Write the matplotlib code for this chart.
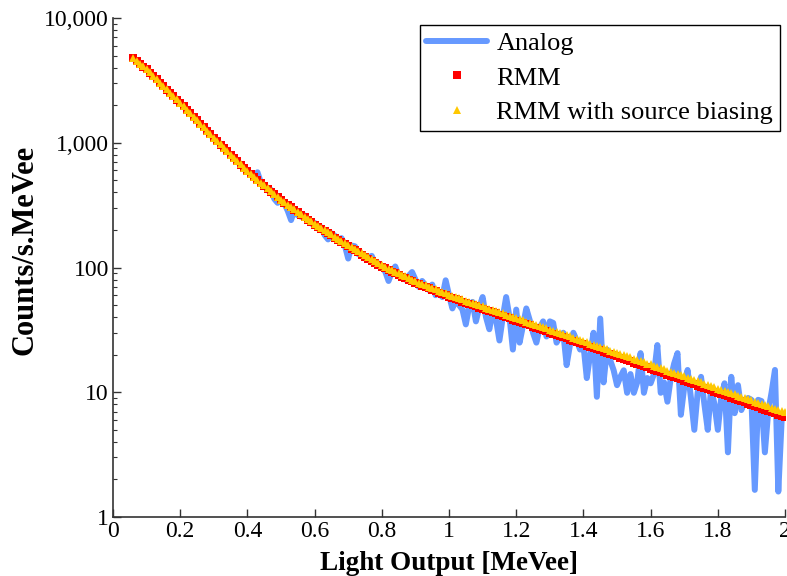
import numpy as np
import matplotlib
matplotlib.use("Agg")
import matplotlib.pyplot as plt
from matplotlib.ticker import FixedLocator, FuncFormatter, LogLocator, NullFormatter

# light output grid [MeVee], 0.06 .. 2.00 in steps of 0.01
light_output = np.round(np.arange(6, 201) / 100, 2)

# RMM estimate (counts/s.MeVee)
rmm = [
    4742, 4508, 4285, 4074,
    3882, 3648, 3428, 3221, 3027, 2844, 2673, 2512, 2360, 2218,
    2084, 1954, 1832, 1718, 1611, 1510, 1416, 1327, 1245, 1167,
    1094, 1028, 966, 908, 853, 802, 753, 708, 667, 627,
    589, 558, 530, 502, 476, 452, 429, 406, 385, 366,
    347, 331, 317, 303, 290, 277, 264, 253, 242, 231,
    221, 212, 204, 196, 188, 181, 173, 167, 160, 154,
    148, 142, 137, 132, 127, 122, 118, 113, 109, 105,
    101, 98.4, 95.5, 92.7, 89.9, 87.3, 84.7, 82.2, 79.8, 77.4,
    75.2, 73.3, 71.4, 69.7, 67.9, 66.2, 64.6, 63.0, 61.4, 59.8,
    58.3, 57.1, 55.8, 54.6, 53.4, 52.2, 51.1, 50.0, 48.9, 47.8,
    46.8, 45.8, 44.8, 43.8, 42.8, 41.9, 41.0, 40.1, 39.2, 38.3,
    37.5, 36.7, 35.9, 35.1, 34.4, 33.6, 32.9, 32.2, 31.5, 30.8,
    30.1, 29.5, 28.8, 28.2, 27.6, 27.0, 26.4, 25.9, 25.3, 24.8,
    24.2, 23.67, 23.15, 22.64, 22.14, 21.65, 21.17, 20.70, 20.25, 19.80,
    19.36, 18.93, 18.52, 18.11, 17.71, 17.32, 16.93, 16.56, 16.19, 15.84,
    15.49, 15.15, 14.81, 14.49, 14.17, 13.85, 13.55, 13.25, 12.96, 12.67,
    12.39, 12.12, 11.85, 11.59, 11.33, 11.08, 10.84, 10.60, 10.36, 10.13,
    9.91, 9.69, 9.48, 9.27, 9.06, 8.86, 8.67, 8.48, 8.29, 8.11,
    7.93, 7.75, 7.58, 7.41, 7.25, 7.09, 6.93, 6.78, 6.63, 6.49,
    6.34,
]

# RMM with source biasing
rmm_biased = [
    4760, 4520, 4290, 4090,
    3890, 3660, 3430, 3230, 3030, 2850, 2680, 2520, 2370, 2225,
    2090, 1960, 1838, 1722, 1616, 1515, 1420, 1332, 1250, 1171,
    1098, 1032, 970, 911, 856, 805, 756, 711, 670, 630,
    592, 561, 533, 505, 479, 455, 432, 409, 388, 369,
    350, 334, 320, 306, 293, 280, 267, 256, 245, 234,
    224, 215, 207, 199, 191, 184, 176, 170, 163, 157,
    151, 145, 140, 135, 130, 125, 121, 116, 112, 108,
    104, 101, 98.2, 95.4, 92.6, 89.9, 87.3, 84.8, 82.3, 79.9,
    77.7, 75.7, 73.8, 72.0, 70.2, 68.5, 66.8, 65.2, 63.6, 62.0,
    60.5, 59.2, 57.9, 56.7, 55.5, 54.3, 53.2, 52.0, 50.9, 49.8,
    48.8, 47.8, 46.8, 45.8, 44.8, 43.9, 42.9, 42.0, 41.1, 40.2,
    39.3, 38.5, 37.7, 36.9, 36.1, 35.3, 34.6, 33.9, 33.2, 32.5,
    31.8, 31.1, 30.5, 29.8, 29.2, 28.6, 28.0, 27.4, 26.8, 26.3,
    25.7, 25.2, 24.6, 24.1, 23.6, 23.1, 22.6, 22.1, 21.6, 21.2,
    20.7, 20.3, 19.8, 19.4, 19.0, 18.6, 18.2, 17.8, 17.4, 17.0,
    16.7, 16.3, 16.0, 15.6, 15.3, 14.9, 14.6, 14.3, 14.0, 13.7,
    13.4, 13.1, 12.8, 12.5, 12.3, 12.0, 11.7, 11.5, 11.2, 11.0,
    10.7, 10.5, 10.3, 10.05, 9.83, 9.62, 9.41, 9.20, 9.00, 8.80,
    8.61, 8.42, 8.24, 8.06, 7.88, 7.71, 7.54, 7.38, 7.22, 7.06,
    6.90,
]

# analog measurement
analog = [
    4750, 4480, 4300, 4050,
    3900, 3620, 3460, 3200, 3050, 2830, 2690, 2490, 2380, 2200,
    2090, 1940, 1850, 1700, 1640, 1500, 1430, 1310, 1280, 1150,
    1100, 1020, 975, 900, 860, 795, 760, 700, 675, 620,
    590, 560, 545, 580, 480, 460, 415, 420, 355, 330,
    350, 325, 285, 240, 292, 262, 255, 262, 238, 225,
    228, 205, 210, 182, 168, 188, 180, 168, 172, 150,
    118, 150, 148, 128, 125, 118, 120, 124, 106, 108,
    100, 93, 78, 92, 102, 86, 84, 80, 86, 92,
    80, 70, 78, 72, 66, 73, 60, 64, 58, 79,
    60, 47, 55, 50, 46, 35, 49, 53, 37, 48,
    58, 40, 32, 45, 38, 26, 40, 58, 40, 22,
    46, 25, 34, 47, 38, 30, 25, 33, 37, 28,
    37, 36, 25, 28, 30, 16.5, 24, 30, 26, 22,
    24, 13, 20, 30, 9.2, 39, 12, 22, 18, 15,
    11.4, 13.3, 15, 9.9, 14, 9.9, 12, 20.6, 9.9, 13,
    11.8, 14, 23.9, 9.9, 12, 8.4, 13, 17, 20.6, 6.6,
    11, 15.1, 9, 5.0, 10, 13.3, 8, 5.0, 10.8, 8,
    5.0, 9, 11.8, 3.3, 13.3, 6.8, 11.4, 7.2, 8.5, 9,
    8.7, 1.65, 8.7, 8.5, 3.3, 7, 10, 15.1, 1.6, 6,
    6.6,
]

x_ticks = [0, 0.2, 0.4, 0.6, 0.8, 1, 1.2, 1.4, 1.6, 1.8, 2]
y_ticks = [1, 10, 100, 1000, 10000]

plt.rcParams['font.family'] = ['Liberation Serif', 'DejaVu Serif']

fig = plt.figure(figsize=(7.87, 5.76), dpi=100)
ax = fig.add_axes([0.1436, 0.1024, 0.8539, 0.8663])

ax.plot(light_output, analog, color='#6699ff', linewidth=4.3,
        solid_joinstyle='round', solid_capstyle='round', label='Analog', zorder=2)
ax.plot(light_output, rmm, linestyle='none', marker='s', markersize=6.2,
        markeredgewidth=0, color='#ff0000', label='RMM', zorder=3)
ax.plot(light_output, rmm_biased, linestyle='none', marker='^', markersize=6.0,
        markeredgewidth=0, color='#ffc800', label='RMM with source biasing', zorder=4)

ax.set_yscale('log')
ax.set_xlim(0, 2)
ax.set_ylim(1, 10000)

ax.xaxis.set_major_locator(FixedLocator(x_ticks))
ax.xaxis.set_major_formatter(FuncFormatter(lambda v, p: f"{v:g}"))
ax.yaxis.set_major_locator(FixedLocator(y_ticks))
ax.yaxis.set_major_formatter(FuncFormatter(lambda v, p: f"{int(round(v)):,}"))
ax.yaxis.set_minor_locator(LogLocator(base=10, subs=range(2, 10)))
ax.yaxis.set_minor_formatter(NullFormatter())

ax.tick_params(which='both', direction='in', labelsize=17, color='#333333')
ax.tick_params(which='major', length=6, width=1)
ax.tick_params(which='minor', length=3, width=0.8)
ax.tick_params(axis='x', pad=3)
ax.tick_params(axis='y', pad=3)

for side in ['top', 'right']:
    ax.spines[side].set_visible(False)
for side in ['left', 'bottom']:
    ax.spines[side].set_color('#333333')
    ax.spines[side].set_linewidth(1.2)

ax.set_xlabel('Light Output [MeVee]', fontsize=19.5, fontweight='bold', labelpad=6)
ax.set_ylabel('Counts/s.MeVee', fontsize=22, fontweight='bold')
ax.yaxis.set_label_coords(-0.11, 0.535)

leg = ax.legend(loc='upper right', bbox_to_anchor=(0.992, 0.986), borderaxespad=0,
                fontsize=19, frameon=True, fancybox=False, framealpha=1,
                handlelength=2.3, handletextpad=0.35, borderpad=0.25, labelspacing=0.42)
leg.get_frame().set_edgecolor('black')
leg.get_frame().set_linewidth(1.0)

fig.savefig('out.png', dpi=100)
